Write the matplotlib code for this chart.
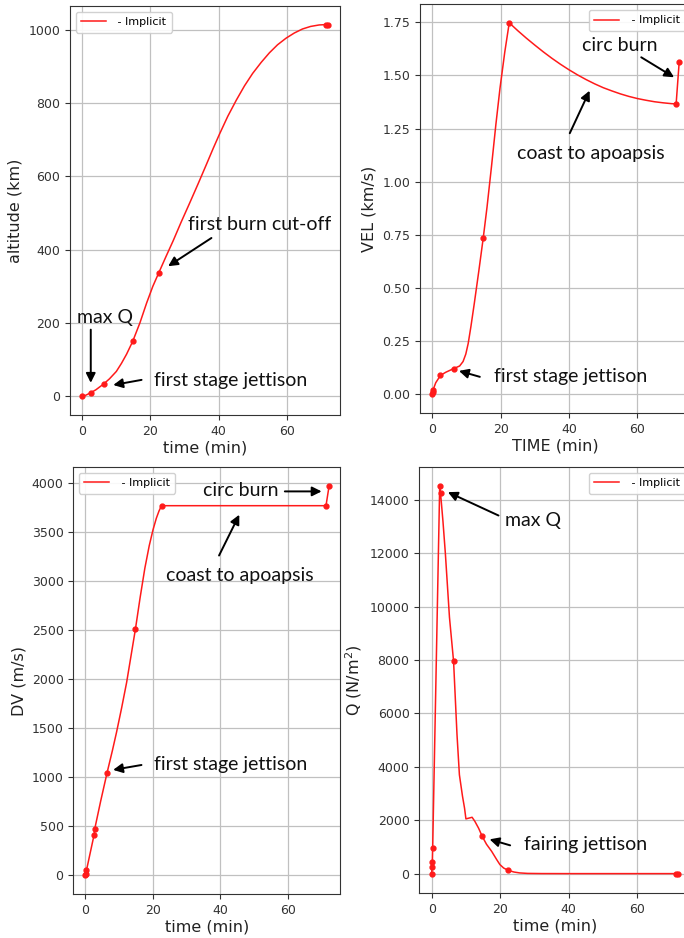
import matplotlib
matplotlib.use("Agg")
import matplotlib.pyplot as plt

# ---------------------------------------------------------------------------
# data (time in minutes)
alt_t = [0, 1, 2.5, 4, 6.3, 8, 10, 11.5, 13, 14.8, 16.9, 18.9, 20.7, 22.4,
         24.5, 26.7, 29, 31.5, 34, 36.4, 38.4, 40.3, 42.7, 45.2, 47.6, 50.0,
         52.5, 54.9, 57.3, 59.8, 62.2, 64.6, 67, 69.5, 71.5, 72]
alt_v = [0, 3, 10, 18, 34, 48, 68, 90, 115, 150, 200, 255, 300, 336,
         380, 425, 475, 527, 580, 632, 676, 716, 764, 808, 847, 881,
         911, 937, 959, 977, 991, 1002, 1009, 1013, 1014, 1014]
alt_node_t = [0, 2.5, 6.3, 14.8, 22.4, 71.5, 72]
alt_node_v = [0, 10, 34, 150, 336, 1014, 1014]

vel_t = [0, 0.1, 0.2, 1.0, 2.4, 4, 6.3, 8.0, 9.0, 9.8, 10.5, 11.3, 12.3,
         13.6, 14.9, 16.0, 17.3, 18.6, 19.8, 21.2, 22.5, 25, 27.5, 30, 32.5,
         35, 37.5, 40, 42.5, 45, 47.5, 50, 52.5, 55, 57.5, 60, 62.5, 65,
         67.5, 70, 71.3, 72.2]
vel_v = [0, 0.01, 0.02, 0.055, 0.09, 0.105, 0.122, 0.134, 0.155, 0.19, 0.24,
         0.32, 0.43, 0.58, 0.736, 0.88, 1.07, 1.27, 1.44, 1.61, 1.747, 1.71,
         1.675, 1.642, 1.61, 1.58, 1.552, 1.526, 1.502, 1.48, 1.46, 1.442,
         1.427, 1.413, 1.401, 1.391, 1.383, 1.376, 1.371, 1.367, 1.366, 1.564]
vel_node_t = [0, 0.1, 0.2, 2.4, 6.3, 14.9, 22.5, 71.3, 72.2]
vel_node_v = [0, 0.01, 0.02, 0.09, 0.122, 0.736, 1.747, 1.366, 1.564]

dv_t = [0, 0.1, 0.3, 2.56, 2.76, 4.5, 6.4, 8, 9.2, 10.7, 12.2, 14.8, 16.2,
        17.6, 18.9, 20.0, 21.0, 21.8, 22.55, 71.3, 72.2]
dv_v = [0, 10, 45, 407, 469, 750, 1040, 1270, 1453, 1700, 1963, 2506, 2830,
        3130, 3360, 3520, 3640, 3715, 3769, 3769, 3966]
dv_node_t = [0, 0.1, 0.3, 2.56, 2.76, 6.4, 14.8, 22.55, 71.3, 72.2]
dv_node_v = [0, 10, 45, 407, 469, 1040, 2506, 3769, 3769, 3966]

q_t = [0, 0.1, 0.2, 0.3, 2.35, 2.6, 3.3, 4.0, 5.2, 6.4, 7.0, 7.4, 8.1, 9.0,
       9.6, 10.0, 11.2, 11.8, 12.6, 13.7, 14.75, 16, 17.5, 19, 19.9, 21,
       22.3, 24, 25.7, 28, 32, 40, 50, 60, 71.3, 72]
q_v = [0, 250, 420, 950, 14500, 14250, 13200, 12000, 9600, 7950, 6300, 5200,
       3700, 2900, 2450, 2050, 2090, 2110, 1960, 1700, 1396, 1100, 835, 520,
       340, 210, 124, 60, 26, 8, 2, 0, 0, 0, 0, 0]
q_node_t = [0, 0.1, 0.2, 0.3, 2.35, 2.6, 6.4, 14.75, 22.3, 71.3, 72]
q_node_v = [0, 250, 420, 950, 14500, 14250, 7950, 1396, 124, 0, 0]

line_label = " - Implicit"
note_font = "Lato"
red = "#ff1a1a"

fig = plt.figure(figsize=(6.84, 9.38), dpi=100)


def panel(rect, t, v, nt, nv, xlabel, ylabel, ylim, legend_loc):
    ax = fig.add_axes(rect)
    ax.plot(t, v, '-', color=red, lw=1.1, label=line_label)
    ax.plot(nt, nv, 'o', color=red, ms=3.5, lw=0)
    ax.set_xlim(-3.6, 75.6)
    ax.set_ylim(*ylim)
    ax.set_xticks([0, 20, 40, 60])
    ax.grid(True, color='#c0c0c0', lw=0.9)
    ax.set_axisbelow(True)
    ax.tick_params(labelsize=9, colors='#333333')
    for s in ax.spines.values():
        s.set_color('#333333')
    ax.set_xlabel(xlabel, fontsize=11.5, color='#222222', labelpad=2)
    ax.set_ylabel(ylabel, fontsize=11.5, color='#222222')
    ax.legend(loc=legend_loc, fontsize=8, handlelength=2.2,
              borderpad=0.5, framealpha=0.9)
    return ax


def note(ax, text, xy_text, tail, tip):
    ax.text(*xy_text, text, fontsize=14, family=note_font,
            ha='left', va='center', color='#111111')
    ax.annotate('', xy=tip, xytext=tail,
                arrowprops=dict(arrowstyle='-|>', color='black', lw=1.4,
                                mutation_scale=14, shrinkA=0, shrinkB=0))


ax1 = panel([0.1023, 0.5576, 0.3947, 0.436], alt_t, alt_v, alt_node_t,
            alt_node_v, 'time (min)', 'altitude (km)', (-50.7, 1064.7),
            'upper left')
note(ax1, 'max Q', (-1.6, 214), (2.5, 182), (2.5, 37))
note(ax1, 'first stage jettison', (21.0, 43), (17.4, 45), (9.1, 31))
note(ax1, 'first burn cut-off', (30.9, 468), (37.9, 432), (25.2, 355))

ax2 = panel([0.614, 0.5597, 0.396, 0.4357], vel_t, vel_v, vel_node_t,
            vel_node_v, 'TIME (min)', 'VEL (km/s)', (-0.087, 1.834),
            'upper right')
note(ax2, 'circ burn', (43.8, 1.639), (61.1, 1.585), (70.7, 1.491))
note(ax2, 'coast to apoapsis', (24.8, 1.135), (40.2, 1.228), (46.0, 1.428))
note(ax2, 'first stage jettison', (18.0, 0.083), (13.9, 0.083), (7.8, 0.111))

ax3 = panel([0.1072, 0.0469, 0.3906, 0.4552], dv_t, dv_v, dv_node_t,
            dv_node_v, 'time (min)', 'DV (m/s)', (-198, 4164),
            'upper left')
note(ax3, 'circ burn', (34.9, 3925), (59.1, 3915), (70.0, 3915))
note(ax3, 'coast to apoapsis', (24.0, 3056), (39.6, 3260), (45.6, 3677))
note(ax3, 'first stage jettison', (20.3, 1120), (16.6, 1120), (8.2, 1070))

ax4 = panel([0.613, 0.048, 0.397, 0.454], q_t, q_v, q_node_t, q_node_v,
            'time (min)', 'Q (N/m$^2$)', (-725, 15225), 'upper right')
note(ax4, 'max Q', (21.5, 13225), (19.5, 13413), (4.75, 14288))
note(ax4, 'fairing jettison', (26.8, 1097), (22.9, 1059), (16.9, 1284))

fig.savefig('out.png', dpi=100)
